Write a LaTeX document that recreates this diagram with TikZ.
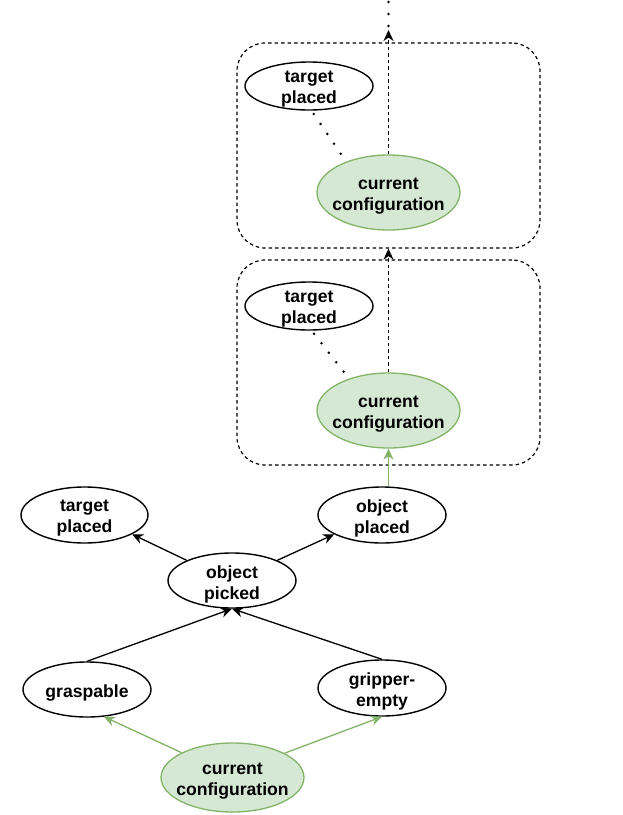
\documentclass[tikz,border=0pt]{standalone}
\usepackage{fontspec}
\setmainfont{Liberation Sans}
\usetikzlibrary{shapes.geometric,arrows.meta}
\definecolor{gfill}{HTML}{D5E8D4}
\definecolor{gline}{HTML}{82B366}
\newcommand{\dnl}[1]{\makebox[0pt]{\raisebox{-3.5pt}[\height][\depth]{#1}}}
\newcommand{\twol}[2]{\dnl{#1}\\\dnl{#2}}
\begin{document}
\begin{tikzpicture}[x=1pt,y=-1pt,
  ell/.style={ellipse, draw, line width=1.4pt, inner xsep=0pt, inner ysep=-6pt, align=center,
    font=\bfseries\fontsize{17.6}{21}\selectfont},
  cfg/.style={ell, draw=gline, fill=gfill, line width=1.3pt},
  grp/.style={draw, dash pattern=on 3.5pt off 3pt, rounded corners=28pt, minimum width=303pt,
    minimum height=205pt, line width=1.2pt, inner sep=0pt},
  arr/.style={-{Stealth[length=11pt,width=10pt,inset=3.5pt]}, line width=1.3pt},
  garr/.style={arr, draw=gline},
  dashedarr/.style={arr, dash pattern=on 3.5pt off 3pt},
  dots/.style={line width=2.8pt, dash pattern=on 0pt off 12pt, line cap=round}
]
\useasboundingbox (0,0) rectangle (623,815);

% grouping boxes
\node[grp] (box1) at (388.5,145.5) {};
\node[grp] (box2) at (388.5,362.5) {};

% top group
\node[ell, minimum width=128pt, minimum height=48pt] (tpA) at (309,86) {\twol{target}{placed}};
\node[cfg, minimum width=143pt, minimum height=75pt] (ccA) at (388.5,192.5) {\twol{current}{configuration}};
% middle group
\node[ell, minimum width=128pt, minimum height=48pt] (tpB) at (309,306) {\twol{target}{placed}};
\node[cfg, minimum width=143pt, minimum height=75pt] (ccB) at (388.5,410.5) {\twol{current}{configuration}};
% bottom graph
\node[ell, minimum width=127pt, minimum height=56pt] (tpC) at (84.5,515) {\twol{target}{placed}};
\node[ell, minimum width=128pt, minimum height=56pt] (opl) at (382,515) {\twol{object}{placed}};
\node[ell, minimum width=128pt, minimum height=55pt] (opk) at (232,580.5) {\twol{object}{picked}};
\node[ell, minimum width=128pt, minimum height=55pt] (gsp) at (87,689.5) {\dnl{graspable}};
\node[ell, minimum width=128pt, minimum height=56pt] (gre) at (382,688) {\twol{gripper-}{empty}};
\node[cfg, minimum width=143pt, minimum height=69pt] (ccC) at (232.5,777.5) {\twol{current}{configuration}};

\coordinate (topTip) at (388.5,30);
\coordinate (topDot) at (388.5,26);
\coordinate (topEnd) at (388.5,0);

% top continuation
\draw[dashedarr] (ccA.north) -- (topTip);
\draw[dots] (topDot) -- (topEnd);
\draw[dashedarr] (ccB.north) -- (box1.south);

% dotted links
\draw[dots, shorten <=4pt] (tpA.-84) -- (ccA.144);
\draw[dots, shorten <=4pt] (tpB.-84) -- (ccB.141);

% green links
\draw[garr] (ccB.south |- opl.north) -- (ccB.south);
\draw[garr] (ccC.154) -- (gsp.-58);
\draw[garr] (ccC.25) -- (gre.south);

% black links
\draw[arr] (opk.156) -- (tpC.-22);
\draw[arr] (opk.24) -- (opl.202);
\draw[arr] (gsp.north) -- (opk.south);
\draw[arr] (gre.north) -- (opk.south);
\end{tikzpicture}
\end{document}
